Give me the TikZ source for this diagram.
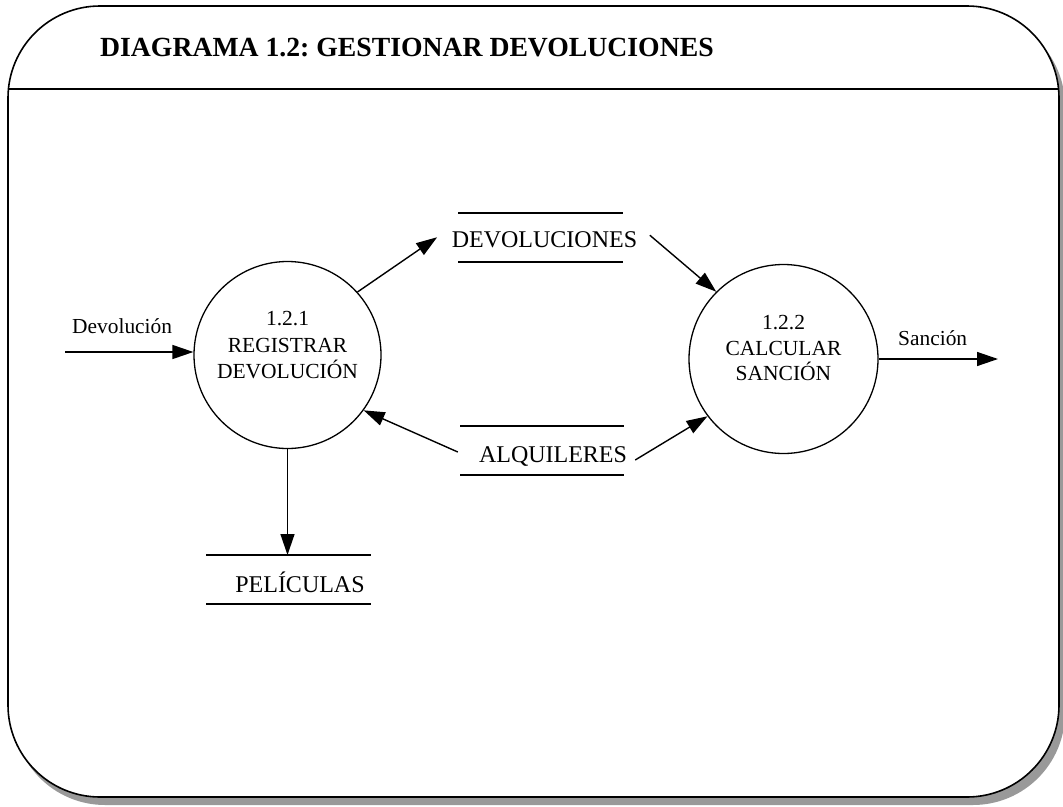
\documentclass[tikz,border=0pt]{standalone}
\usepackage{fontspec}
\setmainfont{Liberation Serif}
\usetikzlibrary{arrows.meta}
\frenchspacing
\tikzset{
  frameline/.style={line width=1.6pt},
  shadowfill/.style={fill=black!40, draw=none},
  proc/.style={circle, draw, line width=1.3pt, inner sep=0pt},
  ptext/.style={anchor=base, inner sep=0pt, font=\fontsize{21.5}{26}\selectfont},
  stext/.style={anchor=base, inner sep=0pt, font=\fontsize{24}{28}\selectfont},
  lbl/.style={anchor=base west, inner sep=0pt, font=\fontsize{21.4}{26}\selectfont},
  storeline/.style={line width=1.4pt},
  flow/.style={line width=1.4pt, -{Triangle[length=21pt,width=14pt]}},
}
\begin{document}
\begin{tikzpicture}[x=1pt,y=-1pt]
\useasboundingbox (0,0) rectangle (1063,806);
% frame with shadow
\fill[shadowfill, rounded corners=92pt] (13,14) rectangle (1065,805);
\draw[frameline, fill=white, rounded corners=92pt] (8,6) rectangle (1059,797);
\draw[frameline] (8,89) -- (1059,89);
\node[anchor=base west, inner sep=0pt, font=\fontsize{27.7}{33}\selectfont\bfseries] (title) at (100,56) {DIAGRAMA 1.2: GESTIONAR DEVOLUCIONES};

% processes
\node[proc, minimum size=187pt] (p1) at (287.5,355) {};
\node[ptext] (p1a) at (287.5,325) {1.2.1};
\node[ptext] (p1b) at (287.5,352) {REGISTRAR};
\node[ptext] (p1c) at (287.5,378) {DEVOLUCIÓN};

\node[proc, minimum size=189pt] (p2) at (783.5,359) {};
\node[ptext] (p2a) at (783.5,329) {1.2.2};
\node[ptext] (p2b) at (783.5,355) {CALCULAR};
\node[ptext] (p2c) at (783.5,380) {SANCIÓN};

% stores
\node[stext] (dv) at (544.5,247) {DEVOLUCIONES};
\draw[storeline] (458,213) -- (623,213);
\draw[storeline] (458,262) -- (623,262);

\node[stext] (al) at (553,462) {ALQUILERES};
\draw[storeline] (460,426) -- (624,426);
\draw[storeline] (460,475) -- (624,475);

\node[stext] (pe) at (300,592) {PELÍCULAS};
\draw[storeline] (206,555) -- (371,555);
\draw[storeline] (206,604) -- (371,604);
\coordinate (petop) at (287.5,555);

% external flows
\coordinate (din) at (65,352);
\node[lbl] (dlab) at (72,333) {Devolución};
\draw[flow] (din) -- (din -| p1.west);

\coordinate (sout) at (998,359);
\node[lbl] (slab) at (898,345) {Sanción};
\draw[flow] (p2.east) -- (sout);

% internal flows
\draw[flow] (p1.42) -- ([xshift=-14.5pt,yshift=2pt]dv.west);
\draw[flow] ([xshift=12.5pt,yshift=4pt]dv.east) -- (p2.135);
\draw[flow] ([xshift=-21pt,yshift=4pt]al.west) -- (p1.-36);
\draw[flow] ([xshift=8pt,yshift=-4pt]al.east) -- (p2.217);
\draw[flow] (p1.south) -- (petop);
\end{tikzpicture}
\end{document}
